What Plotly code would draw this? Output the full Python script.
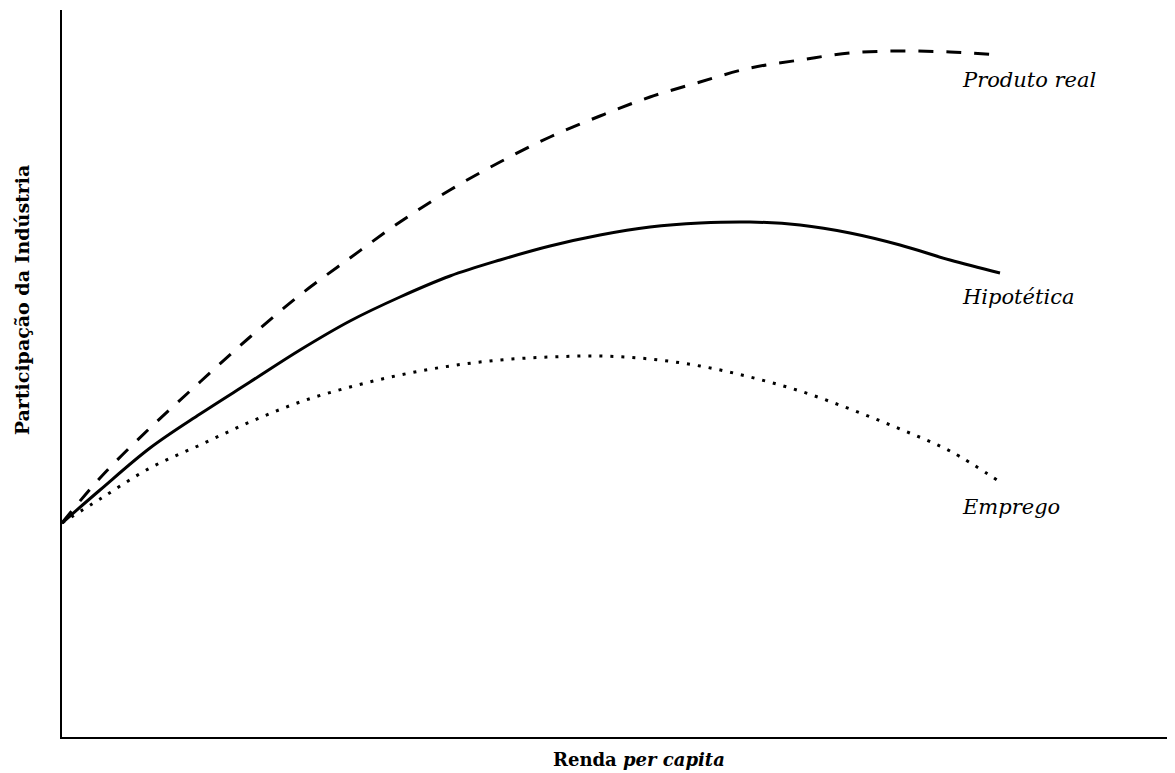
import plotly.graph_objects as go

# Renda per capita (arbitrary units)
renda = [0, 3.8, 8.8, 13.8, 18.8, 23.8, 28.8, 33.8, 38.8, 43.8,
         48.8, 53.8, 58.8, 63.8, 68.8, 73.8, 78.8, 83.8, 88.8, 93.8]
# Participação da Indústria (arbitrary units)
produto_real = [21.4, 25.9, 30.9, 35.5, 40.0, 44.2, 47.9, 51.5, 54.7, 57.5,
                60.0, 62.1, 64.0, 65.5, 66.9, 67.7, 68.4, 68.6, 68.5, 68.2]
hipotetica = [21.4, 24.7, 28.9, 32.3, 35.5, 38.7, 41.6, 44.0, 46.1, 47.7,
              49.1, 50.2, 51.0, 51.4, 51.5, 51.2, 50.4, 49.2, 47.7, 46.4]
emprego = [21.4, 23.8, 26.9, 29.2, 31.5, 33.5, 35.0, 36.2, 37.1, 37.7,
           38.0, 38.1, 37.8, 37.1, 36.0, 34.6, 32.8, 30.8, 28.6, 25.5]
labels = ["Produto real", "Hipotética", "Emprego"]
label_y = [65.7, 44.0, 23.0]
label_x = 89.8

serif = "DejaVu Serif, Liberation Serif, serif"

fig = go.Figure()
fig.add_trace(go.Scatter(x=renda, y=produto_real, mode="lines", line_shape="spline",
                         line=dict(color="black", width=3, dash="15px,13px"), name=labels[0]))
fig.add_trace(go.Scatter(x=renda, y=hipotetica, mode="lines", line_shape="spline",
                         line=dict(color="black", width=3), name=labels[1]))
fig.add_trace(go.Scatter(x=renda, y=emprego, mode="lines", line_shape="spline",
                         line=dict(color="black", width=3, dash="3px,8px"), name=labels[2]))

for txt, ly in zip(labels, label_y):
    fig.add_annotation(x=label_x, y=ly, text=f"<i>{txt}</i>", showarrow=False,
                       font=dict(family=serif, size=21, color="black"),
                       xanchor="left", yanchor="middle")

fig.add_annotation(xref="paper", yref="paper", x=0.518, y=-0.031,
                   xanchor="center", yanchor="middle",
                   text="<b>Renda <i>per capita</i></b>", showarrow=False,
                   font=dict(family=serif, size=18, color="black"))
fig.add_annotation(xref="paper", yref="paper", x=-0.036, y=0.602,
                   xanchor="center", yanchor="middle",
                   text="<b>Participação da Indústria</b>", showarrow=False, textangle=-90,
                   font=dict(family=serif, size=19, color="black"))

fig.update_layout(
    width=1167, height=765,
    margin=dict(l=54, r=0, t=2, b=36, autoexpand=False),
    paper_bgcolor="white", plot_bgcolor="white",
    showlegend=False,
    xaxis=dict(range=[0, 111.3], showline=True, linecolor="black", linewidth=1.5,
               showgrid=False, zeroline=False, showticklabels=False, ticks=""),
    yaxis=dict(range=[0, 72.7], showline=True, linecolor="black", linewidth=1.5,
               showgrid=False, zeroline=False, showticklabels=False, ticks=""),
)
fig.write_html("out.html")
